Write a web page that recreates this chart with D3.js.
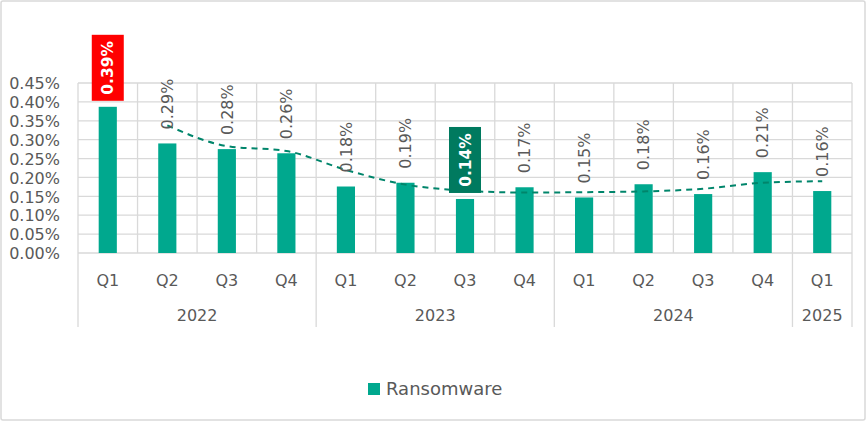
<!DOCTYPE html>
<html>
<head>
<meta charset="utf-8">
<script src="https://cdn.jsdelivr.net/npm/d3@7/dist/d3.min.js"></script>
<style>
  html, body { margin: 0; padding: 0; background: #fff; }
  svg { display: block; }
  text { font-family: "DejaVu Sans", sans-serif; fill: #595959; }
</style>
</head>
<body>
<svg id="chart" width="868" height="422"></svg>
<script>
// Quarterly share of ransomware detections (values in percent)
const quarters = ["Q1", "Q2", "Q3", "Q4", "Q1", "Q2", "Q3", "Q4", "Q1", "Q2", "Q3", "Q4", "Q1"];
const years = ["2022", "2023", "2024", "2025"];
const yearOfQuarter = ["2022", "2022", "2022", "2022", "2023", "2023", "2023", "2023", "2024", "2024", "2024", "2024", "2025"];
const ransomware = [0.387, 0.290, 0.275, 0.264, 0.176, 0.186, 0.143, 0.174, 0.147, 0.182, 0.156, 0.214, 0.164];
// two-period moving-average trend, starting from the second quarter
const trend = [null, 0.338, 0.283, 0.270, 0.220, 0.181, 0.165, 0.160, 0.161, 0.163, 0.170, 0.186, 0.190];
const yTicks = [0, 0.05, 0.10, 0.15, 0.20, 0.25, 0.30, 0.35, 0.40, 0.45];
const highlight = { 0: "#ff0000", 6: "#007a5f" };

const svg = d3.select("#chart");
const W = 868, H = 422;
const plot = { left: 78, right: 852, top: 83, bottom: 253 };
const barColor = "#00a88e";
const gridColor = "#d9d9d9";
const pct = d3.format(".2%");
const fmt = v => pct(v / 100);

// outer frame
svg.append("rect")
  .attr("x", 1).attr("y", 1).attr("width", W - 4).attr("height", H - 3)
  .attr("rx", 2).attr("fill", "#fff").attr("stroke", gridColor).attr("stroke-width", 1.5);

const idx = d3.range(quarters.length);
const x = d3.scaleBand().domain(idx).range([plot.left, plot.right]).paddingInner(0).paddingOuter(0);
const y = d3.scaleLinear().domain([0, 0.45]).range([plot.bottom, plot.top]);
const bw = x.bandwidth() * 0.305;
const cx = i => x(i) + x.bandwidth() / 2;

// horizontal gridlines
svg.append("g").selectAll("line").data(yTicks).join("line")
  .attr("x1", plot.left).attr("x2", plot.right)
  .attr("y1", d => y(d)).attr("y2", d => y(d))
  .attr("stroke", gridColor).attr("stroke-width", 1.3);

// vertical gridlines at category boundaries
svg.append("g").selectAll("line").data(d3.range(quarters.length + 1)).join("line")
  .attr("x1", i => plot.left + i * x.bandwidth()).attr("x2", i => plot.left + i * x.bandwidth())
  .attr("y1", plot.top).attr("y2", plot.bottom)
  .attr("stroke", gridColor).attr("stroke-width", 1.3);

// y-axis labels
const yAxis = d3.axisLeft(y).tickValues(yTicks).tickFormat(fmt).tickSize(0).tickPadding(0);
const gy = svg.append("g").attr("transform", `translate(${plot.left - 18},0)`).call(yAxis);
gy.select(".domain").remove();
gy.selectAll("text").attr("font-size", 16).attr("font-family", "DejaVu Sans, sans-serif")
  .attr("fill", "#595959").attr("dy", "0.36em");

// year group separators below the axis
const groupBounds = [0, 4, 8, 12, 13];
svg.append("g").selectAll("line").data(groupBounds).join("line")
  .attr("x1", i => plot.left + i * x.bandwidth()).attr("x2", i => plot.left + i * x.bandwidth())
  .attr("y1", plot.bottom).attr("y2", 327)
  .attr("stroke", gridColor).attr("stroke-width", 1.3);

// quarter labels
svg.append("g").selectAll("text").data(idx).join("text")
  .attr("x", i => cx(i)).attr("y", 280).attr("dy", "0.36em")
  .attr("text-anchor", "middle").attr("font-size", 16)
  .text(i => quarters[i]);

// year labels, centred under their quarters
svg.append("g").selectAll("text").data(years).join("text")
  .attr("x", yr => {
    const members = idx.filter(i => yearOfQuarter[i] === yr);
    return (x(members[0]) + x(members[members.length - 1]) + x.bandwidth()) / 2;
  })
  .attr("y", 315).attr("dy", "0.36em")
  .attr("text-anchor", "middle").attr("font-size", 16)
  .text(d => d);

// bars
svg.append("g").selectAll("rect").data(idx).join("rect")
  .attr("x", i => cx(i) - bw / 2).attr("width", bw)
  .attr("y", i => y(ransomware[i])).attr("height", i => plot.bottom - y(ransomware[i]))
  .attr("fill", barColor);

// trend line
const line = d3.line()
  .defined(i => trend[i] != null)
  .x(i => cx(i)).y(i => y(trend[i]))
  .curve(d3.curveMonotoneX);
svg.append("path").datum(idx)
  .attr("d", line).attr("fill", "none")
  .attr("stroke", "#00856b").attr("stroke-width", 2)
  .attr("stroke-dasharray", "6,5");

// value labels (rotated)
const labels = svg.append("g");
idx.forEach(i => {
  const top = y(ransomware[i]);
  if (highlight[i]) {
    const bh = 66, bwid = 32, by = top - 6 - bh;
    labels.append("rect")
      .attr("x", cx(i) - bwid / 2).attr("y", by).attr("width", bwid).attr("height", bh)
      .attr("fill", highlight[i]);
    labels.append("text")
      .attr("transform", `translate(${cx(i)},${by + bh / 2}) rotate(-90)`)
      .attr("text-anchor", "middle").attr("dy", "0.36em")
      .attr("font-size", 15.5).attr("font-weight", "bold")
      .style("fill", "#fff")
      .text(fmt(ransomware[i]));
  } else {
    labels.append("text")
      .attr("transform", `translate(${cx(i)},${top - 14}) rotate(-90)`)
      .attr("text-anchor", "start").attr("dy", "0.36em")
      .attr("font-size", 16)
      .text(fmt(ransomware[i]));
  }
});

// legend
const legend = svg.append("g").attr("transform", "translate(368,383)");
legend.append("rect").attr("width", 12).attr("height", 12).attr("fill", barColor);
legend.append("text").attr("x", 18).attr("y", 6).attr("dy", "0.36em")
  .attr("font-size", 18).text("Ransomware");
</script>
</body>
</html>
